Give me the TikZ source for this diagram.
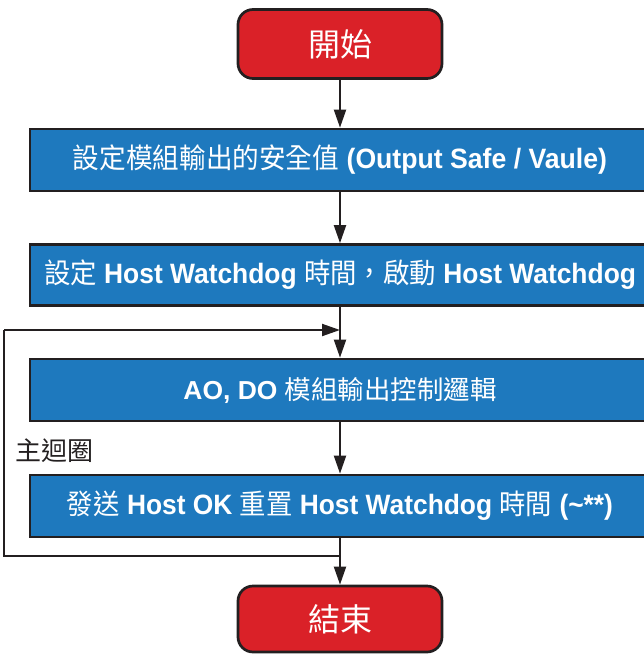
\documentclass[tikz,border=0pt]{standalone}
\usepackage{fontspec}
\usepackage{graphicx}
\setmainfont{Liberation Sans}
\newfontfamily\cjk{Noto Sans CJK TC}
\usetikzlibrary{arrows.meta}
\definecolor{boxblue}{HTML}{1E79BE}
\definecolor{termred}{HTML}{DA2128}
\definecolor{edgecol}{HTML}{231F20}
\newcommand\zh[1]{{\cjk\mdseries #1}}
\begin{document}
\begin{tikzpicture}[x=1pt,y=-1pt,
  term/.style={draw=edgecol, line width=2.7pt, fill=termred, rounded corners=15pt,
    minimum width=204pt, minimum height=69pt, inner sep=0pt, text=white,
    font=\cjk\fontsize{32}{32}\selectfont},
  proc/.style={draw=edgecol, line width=2.7pt, fill=boxblue, minimum width=620pt,
    minimum height=62pt, inner sep=0pt, text=white,
    font=\bfseries\fontsize{28}{28}\selectfont},
  flow/.style={draw=edgecol, line width=2pt, -{Triangle[length=18pt,width=12pt]}},
  plain/.style={draw=edgecol, line width=2pt},
  lbl/.style={inner sep=0pt, text=edgecol, font=\cjk\fontsize{26}{26}\selectfont}]
\useasboundingbox (0,0) rectangle (644,654);
\clip (0,0) rectangle (644,654);
\node[term] (start) at (340,44) {開始};
\node[proc] (b1) at (340,160) {\resizebox{534pt}{\height}{\zh{設定模組輸出的安全值} (Output Safe / Vaule)}};
\node[proc, minimum height=61pt] (b2) at (340,275) {\resizebox{592pt}{\height}{\zh{設定} Host Watchdog \zh{時間，啟動} Host Watchdog}};
\node[proc, font=\bfseries\fontsize{26}{26}\selectfont] (b3) at (340,390) {\resizebox{313pt}{\height}{AO, DO \zh{模組輸出控制邏輯}}};
\node[proc] (b4) at (340,506) {\resizebox{546pt}{\height}{\zh{發送} Host OK \zh{重置} Host Watchdog \zh{時間} (\char`\~**)}};
\node[term, minimum height=66pt] (end) at (340,619) {結束};
\node[lbl, anchor=west] (loop) at (15,451) {主迴圈};
\coordinate (j) at (340,556);
\coordinate (m) at (340,330);
\coordinate (lt) at (4,330);
\coordinate (lb) at (4,556);
\draw[flow] (start.south) -- (b1.north);
\draw[flow] (b1.south) -- (b2.north);
\draw[flow] (b2.south) -- (b3.north);
\draw[flow] (b3.south) -- (b4.north);
\draw[flow] (b4.south) -- (end.north);
\draw[plain] (j) -- (lb) -- (lt);
\draw[flow] (lt) -- (m);
\end{tikzpicture}
\end{document}
